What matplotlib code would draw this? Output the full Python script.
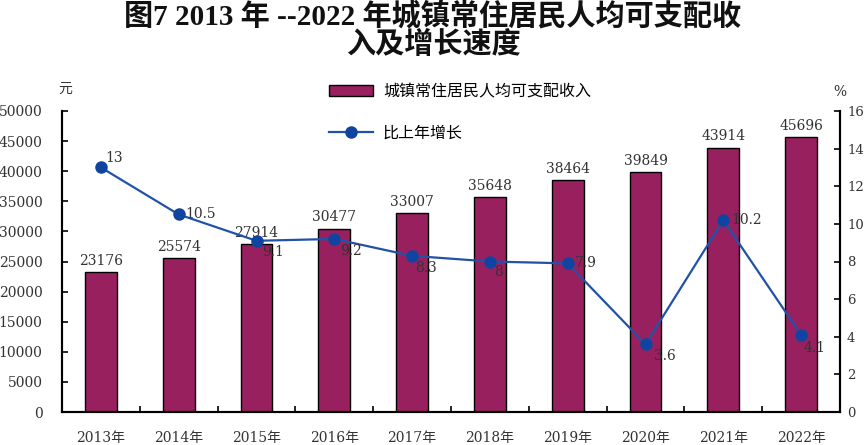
import matplotlib
matplotlib.use("Agg")
import matplotlib.pyplot as plt
import numpy as np
from matplotlib.ticker import MultipleLocator, FixedLocator

plt.rcParams['font.family'] = ['DejaVu Serif', 'Noto Sans CJK SC', 'DejaVu Sans']

years = ['2013年', '2014年', '2015年', '2016年', '2017年', '2018年', '2019年', '2020年', '2021年', '2022年']
income = [23176, 25574, 27914, 30477, 33007, 35648, 38464, 39849, 43914, 45696]
growth = [13, 10.5, 9.1, 9.2, 8.3, 8, 7.9, 3.6, 10.2, 4.1]
growth_labels = ['13', '10.5', '9.1', '9.2', '8.3', '8', '7.9', '3.6', '10.2', '4.1']
# label offsets in pixels (dx, dy), alignment
label_pos = [(4, 2, 'bottom'), (7, 0, 'center'), (6, -4, 'top'), (6, -5, 'top'),
             (3, -5, 'top'), (4, -4, 'top'), (7, 0, 'center'), (8, -5, 'top'),
             (8, 0, 'center'), (2, -6, 'top')]

bar_color = '#98205E'
line_color = '#2152A8'
marker_color = '#0F45A0'
text_color = '#333333'

fig = plt.figure(figsize=(8.66, 4.45), dpi=100)
ax = fig.add_axes([62/866, 1-412/445, (840-62)/866, (412-111)/445])
ax2 = ax.twinx()

x = np.arange(len(years))
bars = ax.bar(x, income, width=0.41, color=bar_color, edgecolor='black', linewidth=1.0, zorder=2,
              label='城镇常住居民人均可支配收入')
for xi, v in zip(x, income):
    ax.text(xi, v + 700, str(v), ha='center', va='bottom', fontsize=10, color=text_color)

ax.set_xlim(-0.5, len(years) - 0.5)
ax.set_ylim(0, 50000)
ax.yaxis.set_major_locator(MultipleLocator(5000))
ax.set_xticks(x)
ax.set_xticklabels(years, fontsize=10, color=text_color)
ax.xaxis.set_minor_locator(FixedLocator(np.arange(0.5, len(years) - 0.5, 1)))
ax.tick_params(axis='x', which='major', length=0, pad=14)
ax.tick_params(axis='x', which='minor', direction='in', length=4, width=1.2)
ax.tick_params(axis='y', direction='in', length=4, width=1.2, labelsize=10, pad=14, labelcolor=text_color)

ax2.plot(x, growth, color=line_color, linewidth=1.6, marker='o', markersize=8,
         markerfacecolor=marker_color, markeredgecolor=marker_color, zorder=3, label='比上年增长')
for xi, v, lab, (dx, dy, va) in zip(x, growth, growth_labels, label_pos):
    ax2.annotate(lab, (xi, v), xytext=(dx, dy), textcoords='offset pixels',
                 ha='left', va=va, fontsize=10, color=text_color)
ax2.set_ylim(0, 16)
ax2.yaxis.set_major_locator(MultipleLocator(2))
ax2.tick_params(axis='y', direction='in', length=4, width=1.2, labelsize=9.5, pad=5, labelcolor=text_color)

for a in (ax, ax2):
    a.spines['top'].set_visible(False)
    for s in ('left', 'right', 'bottom'):
        a.spines[s].set_linewidth(1.5)

ax.set_zorder(ax2.get_zorder() - 1)
ax2.patch.set_visible(False)

fig.text(65/866, 1-89/445, '元', ha='center', va='center', fontsize=10, color=text_color)
fig.text(840/866, 1-92/445, '%', ha='center', va='center', fontsize=10, color=text_color)

title_font = ['Liberation Serif', 'Noto Sans CJK SC', 'DejaVu Sans']
fig.text(0.5, 1-16/445, '图7 2013 年 --2022 年城镇常住居民人均可支配收', ha='center', va='center',
         fontsize=21, fontweight='bold', family=title_font, color='#111111')
fig.text(0.5, 1-45/445, '入及增长速度', ha='center', va='center',
         fontsize=21, fontweight='bold', family=title_font, color='#111111')

h1, l1 = ax.get_legend_handles_labels()
h2, l2 = ax2.get_legend_handles_labels()
fig.legend(h1 + h2, l1 + l2, loc='upper left', bbox_to_anchor=(329/866, 1-83/445), frameon=False,
           borderpad=0, borderaxespad=0,
           fontsize=11.5, labelspacing=1.55, handlelength=2.75, handleheight=0.75, handletextpad=0.63)

fig.savefig('out.png', dpi=100)
